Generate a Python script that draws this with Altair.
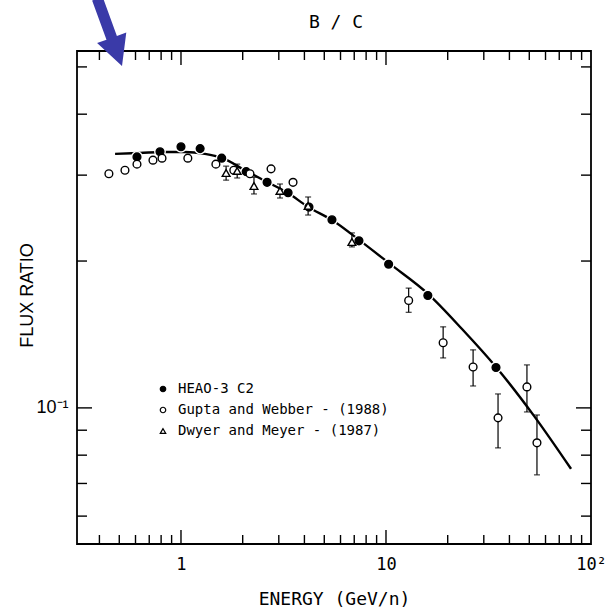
import altair as alt
import pandas as pd

# ---------------- data ----------------
heao_E = [0.61, 0.79, 1.00, 1.24, 1.58, 2.08, 2.63, 3.33, 4.21, 5.45, 7.38, 10.3, 16.0, 34.4]
heao_R = [0.327, 0.335, 0.343, 0.340, 0.325, 0.305, 0.290, 0.276, 0.258, 0.243, 0.220, 0.197, 0.170, 0.121]

gw_E = [0.445, 0.533, 0.610, 0.730, 0.808, 1.08, 1.48, 1.81, 2.17, 2.75, 3.52, 12.9, 19.0, 26.6, 35.2, 48.7, 54.5]
gw_R = [0.302, 0.307, 0.316, 0.322, 0.325, 0.325, 0.316, 0.307, 0.302, 0.309, 0.290, 0.166, 0.136, 0.1213, 0.0954, 0.1104, 0.0848]
gw_lo = [None] * 11 + [0.157, 0.1266, 0.1109, 0.0828, 0.0981, 0.0729]
gw_hi = [None] * 11 + [0.176, 0.1466, 0.1315, 0.1068, 0.1225, 0.0967]

dm_E = [1.66, 1.88, 2.27, 3.04, 4.17, 6.82]
dm_R = [0.303, 0.306, 0.285, 0.2785, 0.2594, 0.2188]
dm_lo = [0.293, 0.296, 0.2745, 0.2693, 0.2485, 0.2138]
dm_hi = [0.313, 0.316, 0.297, 0.2877, 0.2706, 0.2284]

line_E = [0.477, 0.631, 0.835, 1.046, 1.309, 1.585, 2.075, 2.628, 3.326, 4.164,
          5.453, 7.385, 10.46, 16.03, 23.49, 34.40, 52.72, 79.88]
line_R = [0.3316, 0.3331, 0.3347, 0.3347, 0.3316, 0.3253, 0.3060, 0.2905, 0.2758, 0.2582,
          0.2428, 0.2210, 0.1973, 0.1713, 0.1451, 0.1213, 0.0963, 0.0750]

series_names = ["HEAO-3 C2", "Gupta and Webber - (1988)", "Dwyer and Meyer - (1987)"]
chart_title = "B / C"

x_label_values = [1, 10, 100]
y_label_values = [0.1]
x_major_ticks = [1, 10]
x_minor_ticks = [0.4, 0.5, 0.6, 0.7, 0.8, 0.9, 2, 3, 4, 5, 6, 7, 8, 9,
                 20, 30, 40, 50, 60, 70, 80, 90]
y_major_ticks = [0.1]
y_minor_ticks = [0.06, 0.07, 0.08, 0.09, 0.2, 0.3, 0.4, 0.5]

x_domain = [0.311, 100]
y_domain = [0.0526, 0.539]

# ---------------- layout ----------------
W, H = 514, 493
PAD = {"left": 77, "top": 51, "right": 19, "bottom": 64}
MONO = "DejaVu Sans Mono"
SANS = "Liberation Sans"

# ---------------- tables ----------------
markers = pd.DataFrame(
    {"E": heao_E + gw_E + dm_E,
     "R": heao_R + gw_R + dm_R,
     "series": [series_names[0]] * len(heao_E) + [series_names[1]] * len(gw_E)
               + [series_names[2]] * len(dm_E)}
)
heao_df = pd.DataFrame({"E": heao_E, "R": heao_R})
err = pd.DataFrame({"E": gw_E + dm_E, "lo": gw_lo + dm_lo, "hi": gw_hi + dm_hi}).dropna()
caps = pd.concat([err[["E"]].assign(R=err["lo"]), err[["E"]].assign(R=err["hi"])])
line_df = pd.DataFrame({"E": line_E, "R": line_R})

xscale = alt.Scale(type="log", domain=x_domain, nice=False, zero=False)
yscale = alt.Scale(type="log", domain=y_domain, nice=False, zero=False)

xaxis = alt.Axis(
    values=x_label_values, grid=False, ticks=False, domain=False,
    labelExpr="datum.value >= 100 ? '10²' : (datum.value >= 10 ? '10' : '1')",
    labelFont=MONO, labelFontSize=17, labelColor="black", labelPadding=12,
    labelFlush=False, labelOverlap=False,
    titleFont=MONO, titleFontSize=18, titleFontWeight="normal", titleColor="black",
    titleY=60, titleBaseline="alphabetic",
)
yaxis = alt.Axis(
    values=y_label_values, grid=False, ticks=False, domain=False,
    labelExpr="'10⁻¹'",
    labelFont=SANS, labelFontSize=18, labelColor="black", labelPadding=9,
    titleFont=SANS, titleFontSize=18, titleFontWeight="normal", titleColor="black",
    titleX=-50, titleY=244, titleBaseline="middle", titleAngle=-90,
)
XT = "ENERGY (GeV/n)"
YT = "FLUX RATIO"


def X(field="E"):
    return alt.X(f"{field}:Q", scale=xscale, axis=xaxis, title=XT)


def Y(field="R"):
    return alt.Y(f"{field}:Q", scale=yscale, axis=yaxis, title=YT)


# curve
curve = alt.Chart(line_df).mark_line(
    color="black", strokeWidth=2.4, interpolate="monotone"
).encode(x=X(), y=Y())

# white halos around filled points (gaps in the curve)
halo = alt.Chart(heao_df).mark_point(
    filled=True, color="white", size=140, opacity=1
).encode(x=X(), y=Y())

# error bars
err_rule = alt.Chart(err).mark_rule(color="black", strokeWidth=1.2).encode(
    x=X(), y=Y("lo"), y2="hi:Q"
)
err_caps = alt.Chart(caps).mark_tick(
    orient="horizontal", color="black", size=6, thickness=1.3
).encode(x=X(), y=Y())

legend = alt.Legend(
    title=None, orient="none", legendX=79, legendY=331,
    labelFont=MONO, labelFontSize=14, labelColor="black", labelLimit=400,
    symbolSize=30, symbolStrokeColor="black", symbolStrokeWidth=1.2,
    labelOffset=8, rowPadding=7, padding=0,
)
pts = alt.Chart(markers).mark_point(
    size=60, strokeWidth=1.4, opacity=1
).encode(
    x=X(), y=Y(),
    shape=alt.Shape("series:N", scale=alt.Scale(domain=series_names,
                    range=["circle", "circle", "triangle-up"]), legend=legend),
    fill=alt.Fill("series:N", scale=alt.Scale(domain=series_names,
                  range=["black", "white", "white"]), legend=legend),
    stroke=alt.Stroke("series:N", scale=alt.Scale(domain=series_names,
                      range=["black", "black", "black"]), legend=legend),
)

# inward tick marks on all four sides, positioned through the scales
xt_major = pd.DataFrame({"E": x_major_ticks})
xt_minor = pd.DataFrame({"E": x_minor_ticks})
yt_major = pd.DataFrame({"R": y_major_ticks})
yt_minor = pd.DataFrame({"R": y_minor_ticks})

tick_layers = []
for df, ln in [(xt_major, 14), (xt_minor, 9)]:
    tick_layers.append(alt.Chart(df).mark_rule(color="black", strokeWidth=1.4).encode(
        x=X(), y=alt.value(H), y2=alt.value(H - ln)))
    tick_layers.append(alt.Chart(df).mark_rule(color="black", strokeWidth=1.4).encode(
        x=X(), y=alt.value(0), y2=alt.value(ln)))
for df, ln in [(yt_major, 15), (yt_minor, 10)]:
    tick_layers.append(alt.Chart(df).mark_rule(color="black", strokeWidth=1.4).encode(
        y=Y(), x=alt.value(0), x2=alt.value(ln)))
    tick_layers.append(alt.Chart(df).mark_rule(color="black", strokeWidth=1.4).encode(
        y=Y(), x=alt.value(W), x2=alt.value(W - ln)))

# chart title, placed above the frame
title_layer = alt.Chart(pd.DataFrame({"t": [chart_title]})).mark_text(
    font=MONO, fontSize=18, color="black", align="center", baseline="alphabetic"
).encode(text="t:N", x=alt.value(W / 2 + 2), y=alt.value(-23.5))

# blue annotation arrow at the top left
arrow_path = ("M-0.491,-0.879 L-0.193,-1.0 L0.221,0.135 L0.491,0.037 "
              "L0.368,1.0 L-0.348,0.342 L-0.078,0.244 Z")
arrow = alt.Chart(pd.DataFrame({"a": [0]})).mark_point(
    shape=arrow_path, filled=True, color="#3a3aa8", size=4844, opacity=1, strokeWidth=0
).encode(x=alt.value(32.2), y=alt.value(-19.8))

chart = alt.layer(
    curve, halo, err_rule, err_caps, pts, *tick_layers, title_layer, arrow
).properties(
    width=W, height=H,
    autosize=alt.AutoSizeParams(type="none"),
    padding=PAD,
    background="white",
).configure_view(
    stroke="black", strokeWidth=1.8
)

chart.save("out.html", embed_options={"renderer": "svg", "actions": False})
